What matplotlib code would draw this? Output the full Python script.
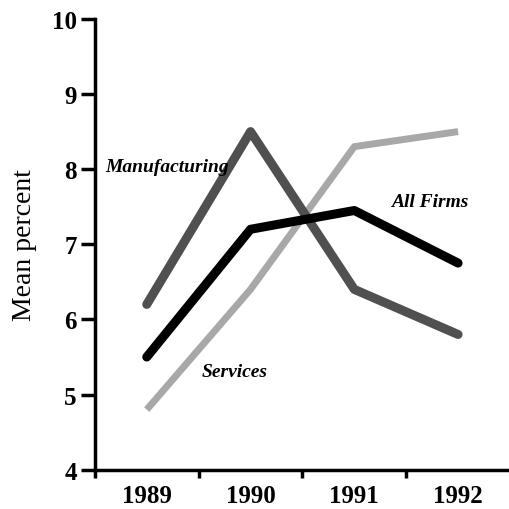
import matplotlib.pyplot as plt
import numpy as np

years = ['1989', '1990', '1991', '1992']
manufacturing = [6.2, 8.5, 6.4, 5.8]
all_firms = [5.5, 7.2, 7.45, 6.75]
services = [4.8, 6.4, 8.3, 8.5]

plt.rcParams['font.family'] = ['Liberation Serif', 'DejaVu Serif']

fig = plt.figure(figsize=(5.1, 5.1), dpi=100)
ax = fig.add_axes([0.186, 0.077, 0.814, 0.884])

x = np.arange(len(years))
ax.plot(x, services, color='#a8a8a8', lw=5, solid_capstyle='butt', zorder=2)
ax.plot(x, manufacturing, color='#505050', lw=6.5, solid_capstyle='round', zorder=3)
ax.plot(x, all_firms, color='black', lw=6.5, solid_capstyle='round', zorder=4)

lab_kw = dict(fontsize=14, style='italic', weight='bold', va='center')
ax.text(-0.4, 8.03, 'Manufacturing', **lab_kw)
ax.text(2.35, 7.57, 'All Firms', **lab_kw)
ax.text(0.53, 5.31, 'Services', **lab_kw)

ax.set_xlim(-0.5, 3.5)
ax.set_ylim(4, 10)
ax.set_yticks(range(4, 11))
ax.set_xticks([-0.5, 0.5, 1.5, 2.5])
ax.set_xticklabels([])
ax.set_xticks(x, minor=True)
ax.set_xticklabels(years, minor=True, fontsize=18, weight='bold')
ax.tick_params(axis='x', which='minor', length=0, pad=10)
ax.tick_params(axis='x', which='major', length=6, width=2.5, direction='out')
ax.tick_params(axis='y', length=10, width=2.5, direction='out', labelsize=18, pad=3)
for lab in ax.get_yticklabels():
    lab.set_fontweight('bold')

ax.set_ylabel('Mean percent', fontsize=20, va='center')
ax.yaxis.set_label_coords(-0.17, 0.5)

for s in ['top', 'right']:
    ax.spines[s].set_visible(False)
ax.spines['left'].set_linewidth(2.5)
ax.spines['bottom'].set_linewidth(2.5)

plt.savefig('out.png', dpi=100)
